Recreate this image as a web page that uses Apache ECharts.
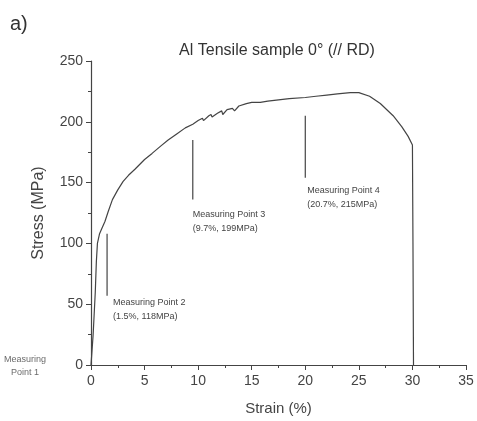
<!DOCTYPE html>
<html style="height: 100%">
<head>
    <meta charset="utf-8">
</head>
<body style="height: 100%; margin: 0; background: #fff">
<div id="container" style="width: 477px; height: 421px"></div>
<script src="https://cdn.jsdelivr.net/npm/echarts@6/dist/echarts.min.js"></script>
<script type="text/javascript">
    // tensile curve
    var strain = [0, 0.2, 0.4, 0.5, 0.6, 0.8, 1.0, 1.3, 1.6, 2.0, 2.5, 3.0, 3.5, 4.1, 5.0, 5.7, 6.5, 7.2, 8.0, 8.8, 9.5,
        10.0, 10.4, 10.5, 11.0, 11.2, 11.3, 11.8, 12.2, 12.3, 12.7, 13.2, 13.4, 13.8, 14.5, 15.0, 15.8, 16.5, 17.5, 18.5,
        20.0, 21.0, 22.0, 23.0, 24.2, 25.0, 26.0, 27.0, 28.2, 29.0, 29.6, 30.0, 30.05, 30.1];
    var stress = [0, 25, 60, 85, 100, 108, 112, 118, 126, 136, 144, 151, 156, 161, 169, 174, 180, 185, 190, 195, 198,
        201, 203, 201, 205, 206, 204, 207, 209, 206, 210, 211, 209, 213, 215, 216, 216, 217, 218, 219,
        220, 221, 222, 223, 224, 224, 221, 215, 205, 196, 188, 181, 100, 0];

    // measuring point arrows: x, top and bottom of the pointer line
    var mpX = [1.5, 9.5, 20.0];
    var mpTop = [108, 185, 205];
    var mpBottom = [57, 136, 154];
    var mpText = ['Measuring Point 2\n(1.5%, 118MPa)', 'Measuring Point 3\n(9.7%, 199MPa)', 'Measuring Point 4\n(20.7%, 215MPa)'];
    var mpLabelOffset = [[-2, 0], [-8, 8], [-6, 6]];

    var xTicks = [0, 35, 5];
    var yTicks = [0, 250, 50];

    var dom = document.getElementById("container");
    var myChart = echarts.init(dom);

    var curve = [];
    for (var i = 0; i < strain.length; i++) {
        curve.push([strain[i], stress[i]]);
    }

    var series = [{
        type: 'line',
        data: curve,
        showSymbol: false,
        lineStyle: {color: '#444', width: 1.2},
        z: 3
    }, {
        // point 1 sits at the origin
        type: 'scatter',
        data: [[0, 0]],
        symbolSize: 0,
        label: {
            show: true,
            formatter: 'Measuring\nPoint 1',
            position: [-66, -12],
            align: 'center',
            fontSize: 9,
            lineHeight: 13,
            color: '#444',
            fontFamily: 'Liberation Sans'
        }
    }];
    for (var k = 0; k < mpX.length; k++) {
        series.push({
            type: 'line',
            data: [[mpX[k], mpTop[k]], [mpX[k], mpBottom[k]]],
            showSymbol: false,
            symbolSize: 0,
            lineStyle: {color: '#444', width: 1.2},
            endLabel: {
                show: true,
                formatter: mpText[k],
                align: 'left',
                verticalAlign: 'top',
                offset: mpLabelOffset[k],
                fontSize: 9,
                lineHeight: 14,
                color: '#444',
                fontFamily: 'Liberation Sans'
            }
        });
    }

    var option = {
        animation: false,
        backgroundColor: '#fff',
        title: {
            text: 'Al Tensile sample 0° (// RD)',
            left: 272,
            top: 38,
            textAlign: 'center',
            textStyle: {fontSize: 16, fontWeight: 'normal', color: '#333', fontFamily: 'Liberation Sans'}
        },
        graphic: [{
            type: 'text',
            left: 10,
            top: 14,
            style: {text: 'a)', fontSize: 20, fill: '#333', fontFamily: 'Liberation Sans'}
        }],
        grid: {left: 91, right: 11, top: 61, bottom: 56},
        xAxis: {
            type: 'value',
            min: xTicks[0],
            max: xTicks[1],
            interval: xTicks[2],
            name: 'Strain (%)',
            nameLocation: 'middle',
            nameGap: 36,
            nameTextStyle: {fontSize: 15, color: '#444', fontFamily: 'Liberation Sans'},
            axisLine: {lineStyle: {color: '#444', width: 1.2}},
            axisTick: {show: true, length: 5, inside: false, lineStyle: {color: '#444'}},
            minorTick: {show: true, splitNumber: 2, length: 3, lineStyle: {color: '#444'}},
            axisLabel: {fontSize: 14, color: '#444', margin: 9, fontFamily: 'Liberation Sans'},
            splitLine: {show: false}
        },
        yAxis: {
            type: 'value',
            min: yTicks[0],
            max: yTicks[1],
            interval: yTicks[2],
            name: 'Stress (MPa)',
            nameLocation: 'middle',
            nameGap: 44,
            nameTextStyle: {fontSize: 16, color: '#444', fontFamily: 'Liberation Sans'},
            axisLine: {show: true, lineStyle: {color: '#444', width: 1.2}},
            axisTick: {show: true, length: 5, lineStyle: {color: '#444'}},
            minorTick: {show: true, splitNumber: 2, length: 3, lineStyle: {color: '#444'}},
            axisLabel: {fontSize: 14, color: '#444', margin: 8, fontFamily: 'Liberation Sans'},
            splitLine: {show: false}
        },
        series: series
    };

    myChart.setOption(option);
</script>
</body>
</html>
